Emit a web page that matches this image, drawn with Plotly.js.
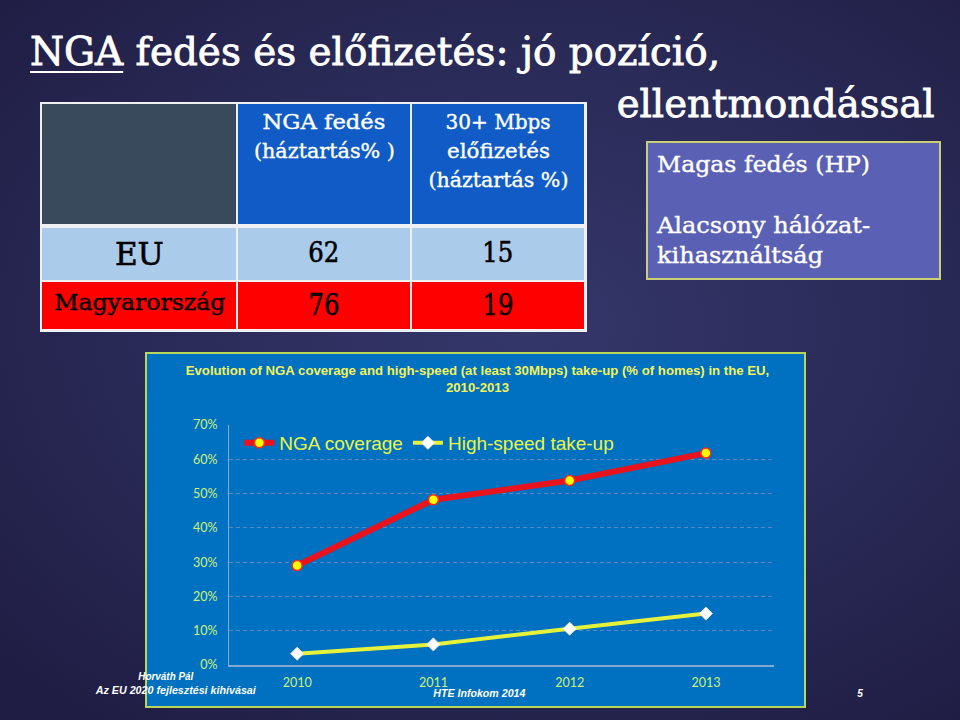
<!DOCTYPE html>
<html>
<head>
<meta charset="utf-8">
<script src="https://cdn.plot.ly/plotly-3.0.1.min.js"></script>
<style>
  html, body { margin: 0; padding: 0; }
  body {
    width: 960px; height: 720px; overflow: hidden; position: relative;
    background: radial-gradient(ellipse 75% 70% at 55% 45%, #34376a 0%, #2b2b59 50%, #1f1d43 100%);
    font-family: "DejaVu Serif", serif;
  }
  .t { position: absolute; white-space: nowrap; }
  .cell { position: absolute; }
  #chart { position: absolute; left: 146px; top: 353px; width: 659px; height: 354px; }
  #chartBorder { position: absolute; left: 145px; top: 352px; width: 661px; height: 356px;
    box-sizing: border-box; border: 2px solid #b9d65c; pointer-events: none; z-index: 5; }
  #box { position: absolute; left: 646px; top: 141px; width: 295px; height: 139px; box-sizing: border-box;
    background: #5a60b4; border: 2px solid #c9cf72; }
  #tbl { position: absolute; left: 40px; top: 102px; width: 547px; height: 230px; background: #eef0f4; }
</style>
</head>
<body>
<div id="tbl"></div>
<div id="box"></div>
<div id="chart"></div>
<div id="chartBorder"></div>
<div id="texts"></div>
<script>
// ---------- data ----------
const slideTitle1 = 'NGA fedés és előfizetés: jó pozíció,';
const slideTitle2 = 'ellentmondással';
const tableHeaders = [['NGA fedés', '(háztartás% )'], ['30+ Mbps', 'előfizetés', '(háztartás %)']];
const rowLabels = ['EU', 'Magyarország'];
const ngaCoveragePct = [62, 76];
const subscriptionPct = [15, 19];
const boxLines = ['Magas fedés (HP)', '', 'Alacsony hálózat-', 'kihasználtság'];

const chartTitle = 'Evolution of NGA coverage and high-speed (at least 30Mbps) take-up (% of homes) in the EU,<br>2010-2013';
const years = ['2010', '2011', '2012', '2013'];
const ngaCoverage = [0.29, 0.482, 0.538, 0.618];
const highSpeedTakeUp = [0.033, 0.06, 0.106, 0.15];
const seriesNames = ['NGA coverage', 'High-speed take-up'];
const footerLeft = ['Horváth Pál', 'Az EU 2020 fejlesztési kihívásai'];
const footerMid = 'HTE Infokom 2014';
const pageNo = '5';

// ---------- helpers ----------
const texts = document.getElementById('texts');
function addText(o) {
  const el = document.createElement('div');
  el.className = 't';
  el.textContent = o.text;
  if (o.html) el.innerHTML = o.html;
  const F = o.size;
  const fam = o.family || 'DejaVu Serif';
  const k = fam === 'DejaVu Serif' ? 0.8455 : (fam.indexOf('Serif') >= 0 ? 0.8375 : 0.8465);
  el.style.fontFamily = '"' + fam + '"';
  el.style.fontSize = F + 'px';
  el.style.lineHeight = F + 'px';
  el.style.color = o.color || '#ffffff';
  if (o.weight) el.style.fontWeight = o.weight;
  if (o.style) el.style.fontStyle = o.style;
  if (o.stroke) el.style.webkitTextStroke = o.stroke + 'px ' + (o.color || '#ffffff');
  el.style.top = (o.baseline - k * F) + 'px';
  el.style.zIndex = 10;
  texts.appendChild(el);
  const natural = el.getBoundingClientRect().width;
  const s = o.w ? o.w / natural : (o.sx || 1);
  const anchor = o.anchor || 'left';
  if (anchor === 'left') { el.style.left = o.x + 'px'; el.style.transformOrigin = 'left center'; }
  else if (anchor === 'right') { el.style.left = (o.x - natural) + 'px'; el.style.transformOrigin = 'right center'; }
  else { el.style.left = (o.x - natural / 2) + 'px'; el.style.transformOrigin = 'center center'; }
  el.style.transform = 'scaleX(' + s + ')';
  return el;
}

// ---------- slide title ----------
addText({ html: '<span style="text-decoration:underline;text-decoration-thickness:2px;text-underline-offset:6px">NGA</span> fedés és előfizetés: jó pozíció,',
  x: 30, baseline: 65, size: 39, w: 690, stroke: 0.8 });
addText({ text: slideTitle2, x: 935, baseline: 117, size: 40, w: 318, anchor: 'right', stroke: 0.8 });

// ---------- table ----------
const tbl = document.getElementById('tbl');
const colX = [2, 198, 372], colW = [194, 172, 172];
const rowY = [2, 126, 180], rowH = [120, 52, 47];
const rowFill = ['#aacbea', '#ff0000'];
function cell(c, r, fill) {
  const d = document.createElement('div');
  d.className = 'cell';
  d.style.left = colX[c] + 'px'; d.style.top = rowY[r] + 'px';
  d.style.width = colW[c] + 'px'; d.style.height = rowH[r] + 'px';
  d.style.background = fill;
  tbl.appendChild(d);
}
cell(0, 0, '#394a5c'); cell(1, 0, '#105bc5'); cell(2, 0, '#105bc5');
for (let r = 0; r < rowLabels.length; r++) for (let c = 0; c < 3; c++) cell(c, r + 1, rowFill[r]);
const colCx = [139, 324, 498];
const headerW = [[123, 141], [105, 103, 140]];
tableHeaders.forEach((lines, i) => {
  lines.forEach((ln, j) => addText({ text: ln, x: colCx[i + 1], baseline: 130 + 29 * j, size: 21, w: headerW[i][j], anchor: 'center', stroke: 0.4 }));
});
addText({ text: rowLabels[0], x: colCx[0], baseline: 265, size: 31, w: 49, anchor: 'center', color: '#000', stroke: 0.6 });
addText({ text: String(ngaCoveragePct[0]), x: colCx[1], baseline: 263, size: 28, w: 31, anchor: 'center', color: '#000', stroke: 0.6 });
addText({ text: String(subscriptionPct[0]), x: colCx[2], baseline: 263, size: 28, w: 31, anchor: 'center', color: '#000', stroke: 0.6 });
addText({ text: rowLabels[1], x: 140, baseline: 311, size: 22, w: 171, anchor: 'center', color: '#000', stroke: 0.4 });
addText({ text: String(ngaCoveragePct[1]), x: colCx[1], baseline: 315, size: 30, w: 31, anchor: 'center', color: '#000', stroke: 0.6 });
addText({ text: String(subscriptionPct[1]), x: colCx[2], baseline: 315, size: 30, w: 31, anchor: 'center', color: '#000', stroke: 0.6 });

// ---------- purple box ----------
addText({ text: boxLines[0], x: 657, baseline: 172, size: 23, w: 213, stroke: 0.4 });
addText({ text: boxLines[2], x: 657, baseline: 233, size: 23, w: 213, stroke: 0.4 });
addText({ text: boxLines[3], x: 657, baseline: 263, size: 23, w: 166, stroke: 0.4 });

// ---------- footer ----------
const ff = { family: 'Liberation Sans', weight: 'bold', style: 'italic', size: 10, anchor: 'center' };
addText(Object.assign({ text: footerLeft[0], x: 166, baseline: 680, w: 55 }, ff));
addText(Object.assign({ text: footerLeft[1], x: 176, baseline: 694, w: 160 }, ff));
addText(Object.assign({ text: footerMid, x: 479, baseline: 697, w: 92 }, ff));
addText(Object.assign({ text: pageNo, x: 860, baseline: 697 }, ff));

// ---------- chart ----------
const tickColor = '#cdf07a';
const traces = [
  { x: years, y: ngaCoverage, name: seriesNames[0], type: 'scatter', mode: 'lines+markers',
    line: { color: '#e8131c', width: 6 },
    marker: { symbol: 'circle', size: 10, color: '#ffff00', line: { color: '#ff2a1a', width: 1.5 } } },
  { x: years, y: highSpeedTakeUp, name: seriesNames[1], type: 'scatter', mode: 'lines+markers',
    line: { color: '#e6f23a', width: 4 },
    marker: { symbol: 'diamond', size: 10, color: '#ffffff', line: { color: '#e8e8e8', width: 1 } } }
];
const layout = {
  width: 659, height: 354,
  paper_bgcolor: '#0070c0', plot_bgcolor: 'rgba(0,0,0,0)',
  margin: { l: 83, r: 31, t: 72, b: 42 },
  title: { text: chartTitle, x: 0.503, xref: 'container', xanchor: 'center', y: 0.938, yref: 'container', yanchor: 'middle',
    font: { family: 'Liberation Sans', size: 13.2, color: '#f2f35a', weight: 'bold' } },
  showlegend: true,
  legend: { orientation: 'h', x: 0.019, xanchor: 'left', y: 0.925, yanchor: 'middle', bgcolor: 'rgba(0,0,0,0)',
    font: { family: 'Liberation Sans', size: 19, color: '#ecf442' }, itemwidth: 30, tracegroupgap: 0 },
  xaxis: { type: 'category', range: [-0.5, 3.5], showgrid: false, zeroline: false, showline: true,
    linecolor: '#86a9d3', linewidth: 1.5, ticks: '', tickfont: { family: 'Lato', size: 12.5, color: tickColor },
    ticklabelstandoff: 5, fixedrange: true },
  yaxis: { range: [0, 0.7], dtick: 0.1, tickformat: '.0%', showgrid: true, gridcolor: '#5a88bd', griddash: '4px,3px',
    gridwidth: 1, zeroline: false, showline: true, linecolor: '#86a9d3', linewidth: 1, ticks: '',
    tickfont: { family: 'Lato', size: 12.5, color: tickColor }, ticklabelstandoff: 8, fixedrange: true },
  font: { family: 'Liberation Sans' }
};
Plotly.newPlot('chart', traces, layout, { displayModeBar: false, staticPlot: true });
</script>
</body>
</html>
